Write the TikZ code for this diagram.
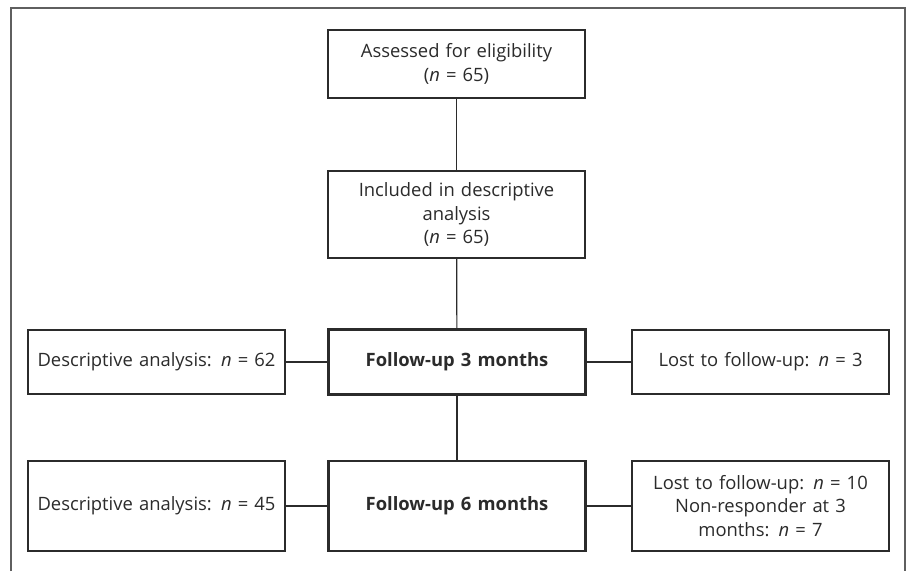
\documentclass[tikz,border=0pt]{standalone}
\usepackage{fontspec}
\setmainfont{Open Sans}
\usepackage{tikz}
\usetikzlibrary{positioning}
\definecolor{framegray}{HTML}{5F5F5F}
\definecolor{boxline}{HTML}{2B2B2B}
\tikzset{
  flowbox/.style={draw=boxline, line width=0.9pt, fill=white, minimum width=257*0.75pt,
    text width=250*0.75pt, align=center, inner sep=0pt, font=\fontsize{13.8}{17.6}\selectfont, text=boxline},
  mainbox/.style={flowbox, line width=2.2pt, font=\fontsize{13.8}{17.6}\selectfont\bfseries},
  link/.style={draw=boxline, line width=0.9pt}
}
\begin{document}
\begin{tikzpicture}[x=0.75pt, y=-0.75pt]
        \useasboundingbox (0,0) rectangle (912,571);
        \draw[framegray, line width=1.4pt] (11,571) -- (11,8) -- (905,8) -- (905,571);
        \node[flowbox, minimum height=68*0.75pt] (Assessed) at (456.5,64) {Assessed for eligibility\\(\textit{n} = 65)};
        \node[flowbox, minimum height=87*0.75pt] (Included) at (456.5,214.5) {Included in descriptive\\analysis\\(\textit{n} = 65)};
        \node[mainbox, minimum height=65*0.75pt] (FollowThree) at (457,362) {Follow-up 3 months};
        \node[flowbox, minimum height=64*0.75pt] (DescThree) at (156.5,362) {Descriptive analysis: \textit{n} = 62};
        \node[flowbox, minimum height=64*0.75pt] (LostThree) at (760.5,362) {Lost to follow-up: \textit{n} = 3};
        \node[mainbox, minimum height=90*0.75pt] (FollowSix) at (457,506) {Follow-up 6 months};
        \node[flowbox, minimum height=90*0.75pt] (DescSix) at (156.5,506) {Descriptive analysis: \textit{n} = 45};
        \node[flowbox, minimum height=90*0.75pt] (LostSix) at (760.5,506) {Lost to follow-up: \textit{n} = 10\\Non-responder at 3\\months: \textit{n} = 7};
        \draw[link] (Assessed) -- (Included);
        \draw[link] (Included) -- (FollowThree);
        \draw[link] (FollowThree) -- (FollowSix);
        \draw[link] (DescThree) -- (FollowThree);
        \draw[link] (FollowThree) -- (LostThree);
        \draw[link] (DescSix) -- (FollowSix);
        \draw[link] (FollowSix) -- (LostSix);
    \end{tikzpicture}
\end{document}
